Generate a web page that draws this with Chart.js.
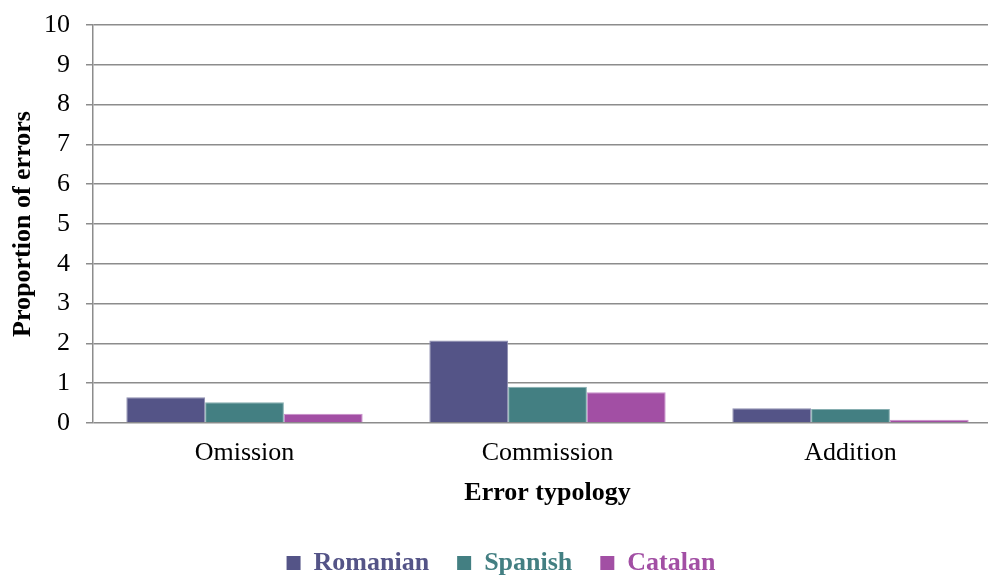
<!DOCTYPE html>
<html lang="en">
<head>
    <meta charset="UTF-8">
    <title>Error typology</title>
    <script src="https://cdn.jsdelivr.net/npm/chart.js"></script>
    <style>
        body { margin: 0; background: #fff; overflow: hidden; }
    </style>
</head>
<body>
    <!-- the original figure is a little wider than the window and cropped on the right -->
    <canvas id="errorChart" width="1002" height="586"></canvas>

    <script>
        // data
        const categories = ['Omission', 'Commission', 'Addition'];
        const romanian = [0.65, 2.07, 0.37];
        const spanish = [0.52, 0.91, 0.35];
        const catalan = [0.23, 0.77, 0.08];
        const yTicks = [0, 1, 2, 3, 4, 5, 6, 7, 8, 9, 10];

        const serif = "'Liberation Serif', 'Times New Roman', serif";
        const colors = ['#545487', '#437f82', '#a24fa4'];

        const ctx = document.getElementById('errorChart').getContext('2d');
        new Chart(ctx, {
            type: 'bar',
            data: {
                labels: categories,
                datasets: [
                    { label: 'Romanian', data: romanian, backgroundColor: colors[0], borderColor: '#8e8eb0', borderWidth: 1 },
                    { label: 'Spanish', data: spanish, backgroundColor: colors[1], borderColor: '#86aeb0', borderWidth: 1 },
                    { label: 'Catalan', data: catalan, backgroundColor: colors[2], borderColor: '#c98fcb', borderWidth: 1 }
                ]
            },
            options: {
                responsive: false,
                animation: false,
                layout: { padding: { top: 25, right: 0, left: 0, bottom: 0 } },
                datasets: { bar: { categoryPercentage: 0.78, barPercentage: 1 } },
                scales: {
                    x: {
                        grid: { display: false },
                        border: { display: false },
                        ticks: { color: '#000', font: { family: serif, size: 26 }, padding: 7 },
                        title: {
                            display: true,
                            text: 'Error typology',
                            color: '#000',
                            font: { family: serif, size: 26, weight: 'bold' },
                            padding: { top: 6, bottom: 13 }
                        },
                        afterFit: s => { s.height = 99; }
                    },
                    y: {
                        min: 0,
                        max: 10,
                        afterBuildTicks: s => { s.ticks = yTicks.map(v => ({ value: v })); },
                        grid: { color: '#8c8c8c', lineWidth: 1.5, tickLength: 7 },
                        border: { color: '#8c8c8c', width: 1.5 },
                        ticks: { color: '#000', font: { family: serif, size: 26 }, padding: 16 },
                        title: {
                            display: true,
                            text: 'Proportion of errors',
                            color: '#000',
                            font: { family: serif, size: 26, weight: 'bold' },
                            padding: { top: 8, bottom: 0 }
                        },
                        afterFit: s => {
                            s.width = 93;
                            s.paddingTop = 10;
                            s.paddingBottom = 10;
                        }
                    }
                },
                plugins: {
                    legend: {
                        position: 'bottom',
                        labels: {
                            boxWidth: 14,
                            boxHeight: 14,
                            padding: 28,
                            font: { family: serif, size: 26, weight: 'bold' },
                            generateLabels: chart => chart.data.datasets.map((ds, i) => ({
                                text: ds.label,
                                fillStyle: colors[i],
                                strokeStyle: colors[i],
                                lineWidth: 0,
                                fontColor: colors[i],
                                datasetIndex: i,
                                hidden: false
                            }))
                        }
                    },
                    tooltip: { enabled: false }
                }
            }
        });
    </script>
</body>
</html>
